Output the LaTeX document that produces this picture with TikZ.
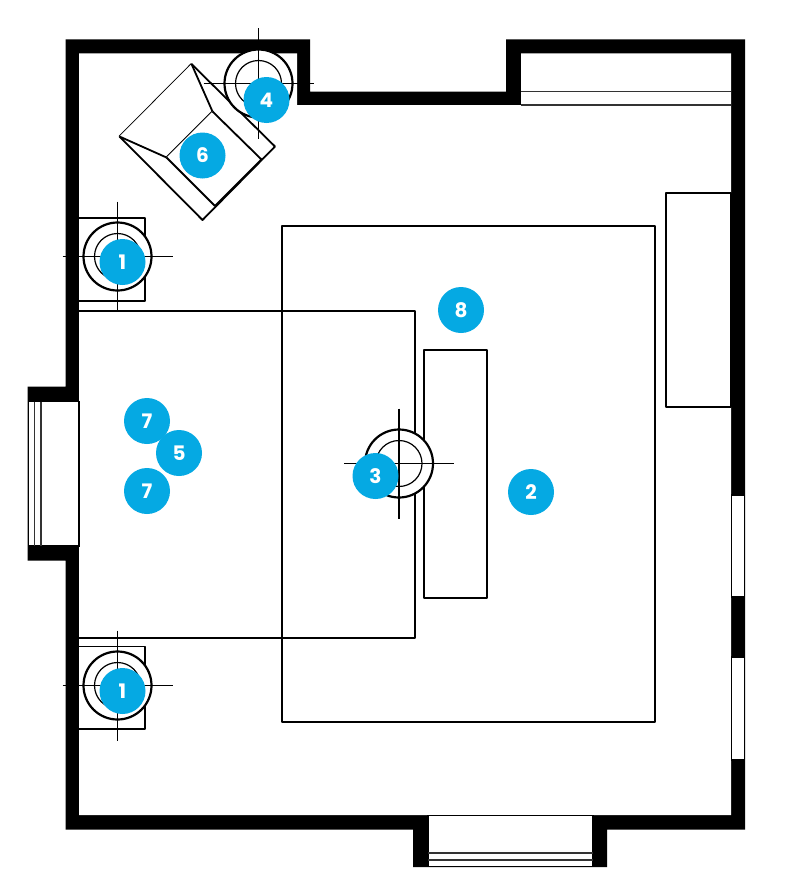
\documentclass[tikz,border=0pt]{standalone}
\usepackage{fontspec}
\setmainfont{Poppins}
\definecolor{badgecol}{HTML}{05A9E3}
\tikzset{
  wall/.style = {fill = black},
  glass/.style = {fill = white, draw = black, line width = 1.2pt},
  pane/.style = {draw = black!80, line width = 1.2pt},
  furniture/.style = {draw = black, fill = white, line width = 1.6pt, line join = round},
  shade/.style = {draw = black, fill = white, line width = 2.2pt},
  bulb/.style = {draw = black, line width = 1.2pt},
  crosshair/.style = {draw = black, line width = 1.7pt},
  badge/.style = {circle, fill = badgecol, text = white, minimum size = 46pt, inner sep = 0pt, font = \fontsize{20}{20}\selectfont\bfseries}
}
\begin{document}
\begin{tikzpicture}[x = 1pt, y = -1pt]
\useasboundingbox (0, 0) rectangle (800, 891);
% walls
\fill[wall] (65.5, 39.5) -- (310, 39.5) -- (310, 91.5) -- (506, 91.5) -- (506, 39.5) -- (745, 39.5) -- (745, 829.5) -- (607, 829.5) -- (607, 867) -- (413, 867) -- (413, 829.5) -- (65.5, 829.5) -- (65.5, 560.5) -- (27.5, 560.5) -- (27.5, 386.5) -- (65.5, 386.5) -- cycle;
\fill[white] (79, 53.5) -- (297, 53.5) -- (297, 105) -- (521, 105) -- (521, 53.5) -- (731, 53.5) -- (731, 815) -- (79, 815) -- cycle;
% windows
\draw[pane] (521, 91.5) -- (731, 91.5);
\draw[pane] (521, 105) -- (731, 105);
\draw[glass] (28.5, 401.5) rectangle (79, 546);
\draw[pane] (34.5, 401.5) -- (34.5, 546);
\draw[pane] (41, 401.5) -- (41, 546);
\draw[glass] (428, 815.5) rectangle (593, 866.5);
\draw[pane] (428, 853) -- (593, 853);
\draw[pane] (428, 860) -- (593, 860);
\draw[glass] (731.5, 495) rectangle (744.5, 597);
\draw[glass] (731.5, 657) rectangle (744.5, 760);
% rug, bed and the rest
\draw[furniture, fill = none] (282, 226) rectangle (655, 722);
\draw[furniture, fill = none] (79, 311) -- (415, 311) -- (415, 638) -- (79, 638);
\draw[furniture] (424, 350) rectangle (487, 598);
\draw[furniture] (666, 193) rectangle (731, 407);
\draw[furniture] (79, 218) -- (145, 218) -- (145, 301) -- (79, 301);
\draw[furniture] (79, 646.5) -- (145, 646.5) -- (145, 729) -- (79, 729);
% armchair
\draw[furniture, line width = 1.8pt] (191.5, 64) -- (275, 146.5) -- (202.5, 220) -- (119.5, 136.5) -- cycle;
\draw[furniture, line width = 1.8pt] (191.5, 64) -- (212.5, 111.5) -- (166.5, 157.5) -- (119.5, 136.5);
\draw[furniture, line width = 1.8pt] (212.5, 111.5) -- (261.5, 159.5) -- (215, 206) -- (166.5, 157.5);
% lamps
\draw[shade] (117.5, 256.5) circle (34);
\draw[bulb] (117.5, 256.5) circle (23);
\draw[crosshair] (62.5, 256.5) -- (172.5, 256.5) (117.5, 201.5) -- (117.5, 311.5);
\draw[shade] (117.5, 685.5) circle (34);
\draw[bulb] (117.5, 685.5) circle (23);
\draw[crosshair] (62.5, 685.5) -- (172.5, 685.5) (117.5, 630.5) -- (117.5, 740.5);
\draw[shade] (258.5, 83.5) circle (34);
\draw[bulb] (258.5, 83.5) circle (23);
\draw[crosshair] (203.5, 83.5) -- (313.5, 83.5) (258.5, 28.5) -- (258.5, 138.5);
\draw[shade] (399, 463.5) circle (34);
\draw[bulb] (399, 463.5) circle (23);
\draw[crosshair] (344, 463.5) -- (454, 463.5) (399, 408.5) -- (399, 518.5);
% badges
\node[badge] (lampone) at (122.5, 262) {1};
\node[badge] (lamptwo) at (122.5, 691) {1};
\node[badge] (rug) at (531, 492) {2};
\node[badge] (floorlamp) at (375.5, 476) {3};
\node[badge] (cornerlamp) at (266.5, 100) {4};
\node[badge] (bed) at (179, 453) {5};
\node[badge] (chair) at (202.5, 155.5) {6};
\node[badge] (pillowone) at (147, 421) {7};
\node[badge] (pillowtwo) at (147, 491) {7};
\node[badge] (bench) at (461, 310) {8};
\end{tikzpicture}
\end{document}
